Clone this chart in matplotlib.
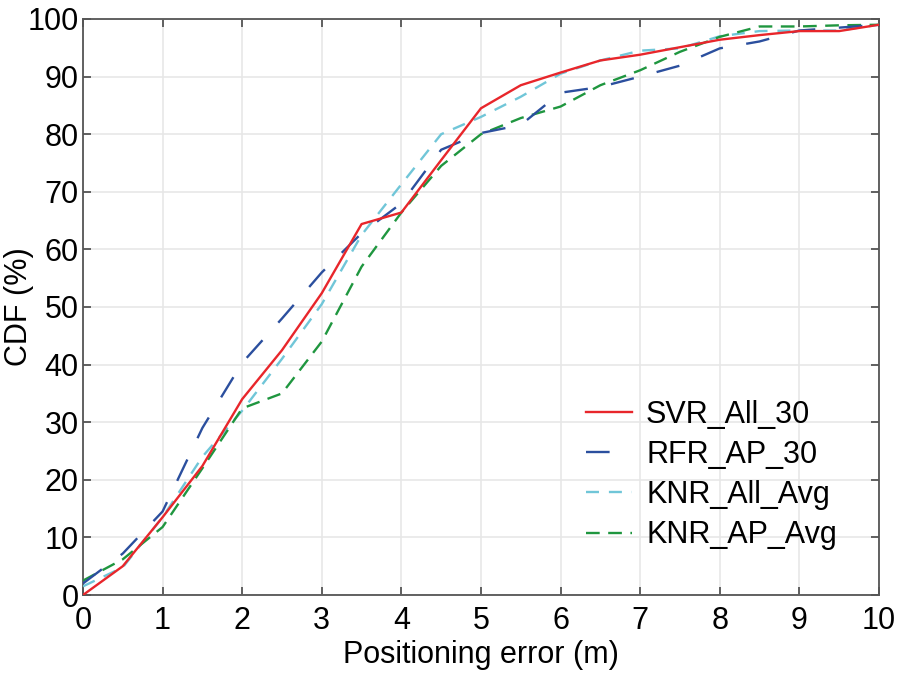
import matplotlib
matplotlib.use("Agg")
import matplotlib.pyplot as plt
import matplotlib.ticker as ticker

# Positioning error grid (m) and CDF values (%)
error_m = [0, 0.5, 1, 1.5, 2, 2.5, 3, 3.5, 4, 4.5, 5,
           5.5, 6, 6.5, 7, 7.5, 8, 8.5, 9, 9.5, 10]

svr_all_30 = [0, 5, 13.5, 22.4, 34, 42.5, 52.4, 64.4, 66.4, 75.5, 84.5,
              88.5, 90.7, 92.8, 93.8, 95.1, 96.4, 97.2, 97.9, 97.9, 99]
rfr_ap_30 = [2, 7.2, 14.5, 29, 40.3, 48, 56, 62.8, 68, 77.3, 80.2,
             81.6, 87.2, 88.2, 90, 91.9, 94.9, 96.1, 98, 98.5, 99]
knr_all_avg = [1.5, 4.8, 13.5, 24, 32, 41, 50.5, 62.5, 71.3, 80, 83,
               86.5, 90.5, 92.8, 94.5, 94.9, 97, 97.9, 98, 98, 99]
knr_ap_avg = [2.5, 6.2, 11.8, 22, 32.4, 35, 44, 57, 66.4, 74.5, 80,
              82.8, 84.8, 88.5, 91.1, 94.3, 96.9, 98.7, 98.7, 98.9, 99]

labels = ["SVR_All_30", "RFR_AP_30", "KNR_All_Avg", "KNR_AP_Avg"]

plt.rcParams["font.family"] = ["Liberation Sans", "DejaVu Sans"]

fig = plt.figure(figsize=(8.98, 6.78), dpi=100)
ax = fig.add_axes([0.0924, 0.1224, 0.8864, 0.8496])

ax.plot(error_m, svr_all_30, color="#e8262b", lw=1.7, label=labels[0], zorder=5)
ax.plot(error_m, rfr_ap_30, color="#2b4f9e", lw=1.7,
        linestyle=(0, (10, 10)), label=labels[1], zorder=4)
ax.plot(error_m, knr_all_avg, color="#70c6d8", lw=1.7,
        linestyle=(0, (5.5, 4.2)), label=labels[2], zorder=3)
ax.plot(error_m, knr_ap_avg, color="#1f963f", lw=1.7,
        linestyle=(0, (5.8, 3.6)), label=labels[3], zorder=3)

ax.set_xlim(0, 10)
ax.set_ylim(0, 100)
ax.xaxis.set_major_locator(ticker.MultipleLocator(1))
ax.yaxis.set_major_locator(ticker.MultipleLocator(10))

ax.grid(True, color="#e6e6e6", lw=1.1, zorder=0)
ax.set_axisbelow(True)

for spine in ax.spines.values():
    spine.set_color("#555555")
    spine.set_linewidth(1.3)

ax.tick_params(axis="both", direction="in", top=True, right=True,
               length=6, width=1.3, color="#555555", labelsize=22)
ax.tick_params(axis="x", pad=8)
ax.tick_params(axis="y", pad=3)

ax.set_xlabel("Positioning error (m)", fontsize=22, labelpad=3)
ax.set_ylabel("CDF (%)", fontsize=22, va="center")
ax.yaxis.set_label_coords(-0.08, 0.5)

ax.legend(loc="lower left", frameon=False, fontsize=22,
          handlelength=1.5, handletextpad=0.45, labelspacing=0.33,
          borderpad=0.4, bbox_to_anchor=(0.598, 0.03))

fig.savefig("out.png", dpi=100)
